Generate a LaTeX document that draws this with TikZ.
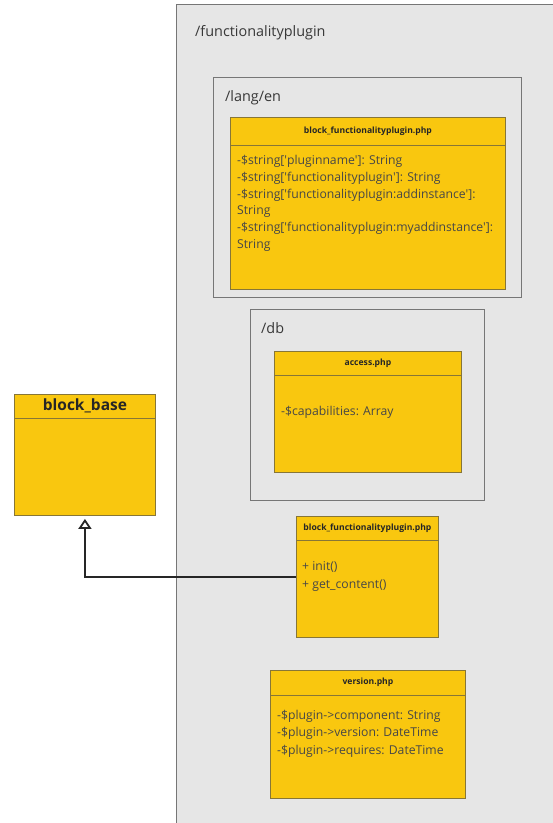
\documentclass[tikz,border=0pt]{standalone}
\usepackage{fontspec}
\setmainfont{Open Sans}
\usetikzlibrary{positioning,calc,arrows.meta}

\definecolor{classfill}{RGB}{249,199,15}
\definecolor{classline}{RGB}{135,118,55}
\definecolor{folderfill}{RGB}{230,230,230}
\definecolor{folderline}{RGB}{118,118,118}

\tikzset{
  folder/.style={draw=folderline, fill=folderfill, line width=0.9pt, anchor=north west, inner sep=0pt},
  classbox/.style={draw=classline, fill=classfill, line width=0.9pt, anchor=north west, inner sep=0pt},
  classtitle/.style={font=\fontsize{8.6}{10}\selectfont\bfseries, text=black!85, inner sep=0pt},
  members/.style={font=\fontsize{12.2}{16.8}\selectfont, text=black!72, align=left, anchor=north west, inner sep=0pt},
  foldername/.style={font=\fontsize{14.4}{16}\selectfont, text=black!78, anchor=west, inner sep=0pt},
}
\newcommand{\q}{\textquotesingle}

\begin{document}
\begin{tikzpicture}[x=1pt,y=-1pt]
    \useasboundingbox (0,0) rectangle (553,823);
    \fill[white] (0,0) rectangle (553,823);

    % plugin folder and its subfolders
    \node[folder, minimum width=400, minimum height=840] (plugin) at (176,4) {};
    \node[foldername] (pluginname) at (195,33) {/functionalityplugin};

    \node[folder, minimum width=308, minimum height=220] (lang) at (213,77) {};
    \node[foldername] (langname) at (225,98) {/lang/en};

    \node[folder, minimum width=234, minimum height=191] (db) at (250,309) {};
    \node[foldername] (dbname) at (261,328) {/db};

    % language strings
    \node[classbox, minimum width=275, minimum height=172] (langfile) at (230,117) {};
    \node[classtitle] (langtitle) at ($(langfile.north)+(0,14)$) {block\_functionalityplugin.php};
    \draw[classline, line width=0.9pt] ($(langfile.north west)+(0,28)$) -- ($(langfile.north east)+(0,28)$);
    \node[members] (langattr) at ($(langfile.north west)+(7,38)$) {-\$string[\q pluginname\q]: String\\
        -\$string[\q functionalityplugin\q]: String\\
        -\$string[\q functionalityplugin:addinstance\q]:\\
        String\\
        -\$string[\q functionalityplugin:myaddinstance\q]:\\
        String};

    % capabilities
    \node[classbox, minimum width=187, minimum height=121] (access) at (274,351) {};
    \node[classtitle] (accesstitle) at ($(access.north)+(0,12)$) {access.php};
    \draw[classline, line width=0.9pt] ($(access.north west)+(0,24)$) -- ($(access.north east)+(0,24)$);
    \node[members] (accessattr) at ($(access.north west)+(7,55.5)$) {-\$capabilities: Array};

    % parent class
    \node[classbox, minimum width=141, minimum height=121] (base) at (14,394) {};
    \node[classtitle, font=\fontsize{15.5}{17}\selectfont\bfseries] (basetitle) at ($(base.north)+(0,12)$) {block\_base};
    \draw[classline, line width=0.9pt] ($(base.north west)+(0,24)$) -- ($(base.north east)+(0,24)$);

    % block class
    \node[classbox, minimum width=142, minimum height=121] (blockfile) at (296,516) {};
    \node[classtitle] (blocktitle) at ($(blockfile.north)+(0,12)$) {block\_functionalityplugin.php};
    \draw[classline, line width=0.9pt] ($(blockfile.north west)+(0,24)$) -- ($(blockfile.north east)+(0,24)$);
    \node[members, font=\fontsize{12.2}{17.8}\selectfont] (blockops) at ($(blockfile.north west)+(6,45.5)$) {+ init()\\ + get\_content()};

    % version info
    \node[classbox, minimum width=195, minimum height=128] (version) at (270,670) {};
    \node[classtitle] (versiontitle) at ($(version.north)+(0,12.5)$) {version.php};
    \draw[classline, line width=0.9pt] ($(version.north west)+(0,25)$) -- ($(version.north east)+(0,25)$);
    \node[members, font=\fontsize{12.2}{17.5}\selectfont] (versionattr) at ($(version.north west)+(7,40)$) {-\$plugin->component: String\\
        -\$plugin->version: DateTime\\
        -\$plugin->requires: DateTime};

    % inheritance
    \draw[black!85, line width=2.2pt, -{Triangle[open, length=10pt, width=13pt, line width=1.8pt]}, shorten >=3pt] (blockfile.west) -| (base.south);
\end{tikzpicture}
\end{document}
